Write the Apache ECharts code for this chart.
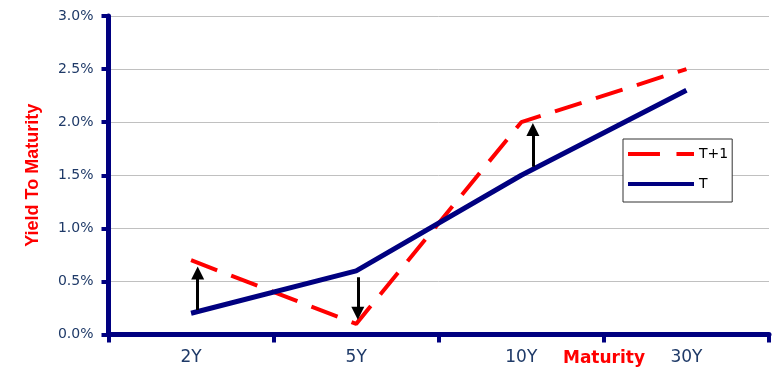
<!DOCTYPE html>
<html>
<head>
<meta charset="utf-8">
<script src="https://cdn.jsdelivr.net/npm/echarts@6/dist/echarts.min.js"></script>
<style>
  html, body { margin: 0; padding: 0; background: #ffffff; }
  #chart { width: 777px; height: 370px; }
</style>
</head>
<body>
<div id="chart"></div>
<script>
// Yield curve today (T) and one period later (T+1)
var maturities = ['2Y', '5Y', '10Y', '30Y'];
var yieldT = [0.2, 0.6, 1.5, 2.3];
var yieldT1 = [0.7, 0.1, 2.0, 2.5];
var yTicks = [0, 0.5, 1.0, 1.5, 2.0, 2.5, 3.0];

// Shift arrows: position along the maturity axis (in category units), start and end yield
var arrowX = [0.54, 1.51, 2.57];
var arrowFrom = [0.23, 0.54, 1.58];
var arrowTo = [0.58, 0.20, 1.93];

var NAVY = '#000080';
var RED = '#ff0000';
var LABEL = '#1f3a68';

var arrowData = arrowX.map(function (x, i) {
  return { coords: [[x, arrowFrom[i]], [x, arrowTo[i]]] };
});

// Legend keys: long dash pair for T+1, solid bar for T
var dashIcon = 'path://M0,0h31v4h-31z M47,0h17v4h-17z';
var solidIcon = 'path://M0,0h66v4h-66z';

var chart = echarts.init(document.getElementById('chart'), null, { renderer: 'canvas' });

chart.setOption({
  animation: false,
  backgroundColor: '#ffffff',
  grid: { left: 108.5, right: 8, top: 16, bottom: 35.5, containLabel: false },
  legend: {
    orient: 'vertical',
    left: 623,
    top: 139,
    data: [
      { name: 'T+1', icon: dashIcon, itemStyle: { color: RED } },
      { name: 'T', icon: solidIcon, itemStyle: { color: NAVY } }
    ],
    itemWidth: 66,
    itemHeight: 4.5,
    itemGap: 16,
    padding: [8, 4, 11, 5],
    backgroundColor: '#ffffff',
    borderColor: '#333333',
    borderWidth: 1,
    borderRadius: 0,
    textStyle: { fontFamily: 'DejaVu Sans', fontSize: 14, color: '#000000' }
  },
  xAxis: [
    {
      type: 'category',
      data: maturities,
      boundaryGap: true,
      axisLine: { show: true, lineStyle: { color: NAVY, width: 5 } },
      axisTick: { show: true, length: 8, lineStyle: { color: NAVY, width: 4 } },
      axisLabel: { color: LABEL, fontFamily: 'DejaVu Sans', fontSize: 17, margin: 15 },
      splitLine: { show: false },
      name: 'Maturity',
      nameLocation: 'end',
      nameGap: -165,
      nameTextStyle: {
        color: RED, fontFamily: 'DejaVu Sans', fontWeight: 'bold', fontSize: 17,
        align: 'center', verticalAlign: 'top', padding: [16, 0, 0, 0]
      }
    },
    {
      type: 'value',
      min: 0,
      max: 4,
      show: false
    }
  ],
  yAxis: {
    type: 'value',
    min: yTicks[0],
    max: yTicks[yTicks.length - 1],
    interval: 0.5,
    axisLine: { show: true, lineStyle: { color: NAVY, width: 5 } },
    axisTick: { show: true, length: 7, lineStyle: { color: NAVY, width: 4 } },
    axisLabel: {
      color: LABEL, fontFamily: 'DejaVu Sans', fontSize: 14, margin: 15,
      formatter: function (v) { return v.toFixed(1) + '%'; }
    },
    splitLine: { show: true, lineStyle: { color: '#c0c0c0', width: 1 } },
    name: 'Yield To Maturity',
    nameLocation: 'middle',
    nameGap: 66,
    nameTextStyle: { color: RED, fontFamily: 'Liberation Sans', fontWeight: 'bold', fontSize: 18 }
  },
  series: [
    {
      name: 'T+1',
      type: 'line',
      data: yieldT1,
      symbol: 'none',
      showSymbol: false,
      color: RED,
      lineStyle: { color: RED, width: 4, type: [28, 15] },
      z: 2
    },
    {
      name: 'T',
      type: 'line',
      data: yieldT,
      symbol: 'none',
      showSymbol: false,
      color: NAVY,
      lineStyle: { color: NAVY, width: 5 },
      z: 3
    },
    {
      name: 'shift',
      type: 'lines',
      coordinateSystem: 'cartesian2d',
      xAxisIndex: 1,
      yAxisIndex: 0,
      data: arrowData,
      symbol: ['none', 'triangle'],
      symbolSize: [0, 13],
      lineStyle: { color: '#000000', width: 3, opacity: 1, curveness: 0 },
      z: 4
    }
  ]
});
</script>
</body>
</html>
